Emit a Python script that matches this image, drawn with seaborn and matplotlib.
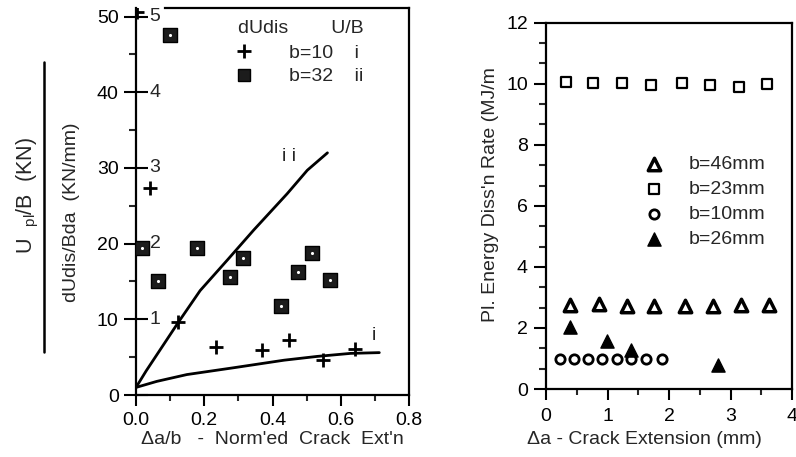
import matplotlib
matplotlib.use("Agg")
import matplotlib.pyplot as plt
import seaborn as sns
import numpy as np
import pandas as pd
from matplotlib.lines import Line2D
from matplotlib.ticker import MultipleLocator, FixedLocator

# ---------------- Left panel data ----------------
b10_x = [0.003, 0.041, 0.124, 0.235, 0.369, 0.449, 0.549, 0.642]
b10_y = [50.6, 27.4, 9.6, 6.4, 6.0, 7.3, 4.6, 6.1]
b32_x = [0.017, 0.100, 0.065, 0.180, 0.274, 0.315, 0.425, 0.476, 0.517, 0.569]
b32_y = [19.4, 47.6, 15.0, 19.4, 15.6, 18.1, 11.7, 16.3, 18.7, 15.2]
curve_ii_x = [0.0, 0.03, 0.124, 0.188, 0.267, 0.345, 0.443, 0.502, 0.561]
curve_ii_y = [1.0, 3.2, 9.6, 13.8, 17.8, 21.8, 26.6, 29.7, 32.0]
curve_i_x = [0.0, 0.061, 0.149, 0.286, 0.434, 0.531, 0.629, 0.713]
curve_i_y = [1.0, 1.8, 2.7, 3.6, 4.6, 5.1, 5.5, 5.6]
left_yticks = [0, 10, 20, 30, 40, 50]
left_yminor = [5, 15, 25, 35, 45]
ub_ticks = [1, 2, 3, 4, 5]
left_xticks = [0.0, 0.2, 0.4, 0.6, 0.8]
left_xminor = [0.1, 0.3, 0.5, 0.7]

# ---------------- Right panel data ----------------
b46_x = [0.39, 0.86, 1.31, 1.76, 2.26, 2.71, 3.17, 3.63]
b46_y = [2.75, 2.78, 2.72, 2.72, 2.72, 2.72, 2.74, 2.75]
b23_x = [0.33, 0.77, 1.24, 1.70, 2.21, 2.66, 3.14, 3.60]
b23_y = [10.07, 10.01, 10.01, 9.96, 10.03, 9.96, 9.90, 9.99]
b10mm_x = [0.23, 0.46, 0.68, 0.91, 1.15, 1.38, 1.63, 1.88]
b10mm_y = [0.98, 0.98, 0.98, 0.98, 0.98, 0.98, 0.98, 0.98]
b26_x = [0.39, 0.99, 1.39, 2.80]
b26_y = [2.04, 1.56, 1.28, 0.79]
right_yticks = [0, 2, 4, 6, 8, 10, 12]
right_xticks = [0, 1, 2, 3, 4]

sns.set_theme(style="white")
plt.rcParams["font.family"] = ["Liberation Sans", "DejaVu Sans"]
plt.rcParams["mathtext.fontset"] = "custom"
plt.rcParams["mathtext.rm"] = "Liberation Sans"

FS = 14
W, H = 796, 457
fig = plt.figure(figsize=(W / 100, H / 100), dpi=100)

ax1 = fig.add_axes([136 / W, 1 - 395 / H, (409 - 136) / W, (395 - 8.3) / H])
ax2 = fig.add_axes([546 / W, 1 - 389 / H, (792 - 546) / W, (389 - 22.7) / H])

for ax in (ax1, ax2):
    for s in ax.spines.values():
        s.set_linewidth(1.6)
        s.set_color("black")

# ---- left ----
sns.lineplot(x=curve_ii_x, y=curve_ii_y, ax=ax1, color="black", lw=2.0,
             estimator=None, sort=False)
sns.lineplot(x=curve_i_x, y=curve_i_y, ax=ax1, color="black", lw=2.0,
             estimator=None, sort=False)
sns.scatterplot(x=b10_x, y=b10_y, ax=ax1, marker="+", s=110, color="black",
                linewidth=2.0, zorder=3)
sns.scatterplot(x=b32_x, y=b32_y, ax=ax1, marker="s", s=115, color="#1c1c1c",
                edgecolor="black", linewidth=1.0, zorder=3)
sns.scatterplot(x=b32_x, y=b32_y, ax=ax1, marker="o", s=5, color="white",
                linewidth=0, zorder=4)

ax1.set_xlim(0, 0.8)
ax1.set_ylim(0, 51.1)
ax1.spines["top"].set_bounds(0.085, 0.8)
ax1.xaxis.set_major_locator(FixedLocator(left_xticks))
ax1.xaxis.set_minor_locator(FixedLocator(left_xminor))
ax1.yaxis.set_major_locator(FixedLocator(left_yticks))
ax1.yaxis.set_minor_locator(FixedLocator(left_yminor))
ax1.set_xticklabels([f"{v:.1f}" for v in left_xticks])
ax1.set_yticklabels([str(v) for v in left_yticks])
ax1.tick_params(axis="y", which="major", direction="inout", length=17, width=1.5,
                pad=4, labelsize=FS, left=True, colors="black")
ax1.tick_params(axis="y", which="minor", direction="out", length=5, width=1.5, left=True)
ax1.tick_params(axis="x", which="major", direction="out", length=8, width=1.5,
                pad=4, labelsize=FS, bottom=True, colors="black")
ax1.tick_params(axis="x", which="minor", direction="out", length=4, width=1.5, bottom=True)

for v in ub_ticks:
    ax1.text(0.04, v * 10, str(v), ha="left", va="center", fontsize=FS)

ax1.text(0.448, 31.5, "i i", ha="center", va="center", fontsize=FS)
ax1.text(0.697, 7.8, "i", ha="center", va="center", fontsize=FS)

h_plus = Line2D([], [], marker="+", ls="none", color="black", ms=10, mew=2)
h_sq = Line2D([], [], marker="s", ls="none", mfc="#1c1c1c", mec="black", ms=9)
leg1 = ax1.legend([h_plus, h_sq], ["b=10    i", "b=32    ii"],
                  title="dUdis        U/B", loc="upper left",
                  bbox_to_anchor=(0.33, 0.99), frameon=False, fontsize=FS,
                  title_fontsize=FS, handletextpad=1.85, labelspacing=0.32,
                  borderaxespad=0.0, handlelength=1.0)
leg1._legend_box.align = "right"
leg1._legend_box.sep = 5

ax1.set_xlabel("")
ax1.set_ylabel("")
fig.text(272 / W, 1 - 440 / H, "\u0394a/b   -  Norm'ed  Crack  Ext'n",
         ha="center", va="center", fontsize=FS)

fig.text(28 / W, 1 - 195 / H, r"U  $_{\mathrm{pl}}$/B  (KN)", rotation=90,
         ha="center", va="center", fontsize=15.5)
fig.add_artist(Line2D([44 / W, 44 / W], [1 - 62 / H, 1 - 352 / H],
                      transform=fig.transFigure, color="black", lw=1.8))
fig.text(72 / W, 1 - 212 / H, "dUdis/Bda  (KN/mm)", rotation=90,
         ha="center", va="center", fontsize=FS)

# ---- right ----
sns.scatterplot(x=b46_x, y=b46_y, ax=ax2, marker="^", s=80, color="white",
                edgecolor="black", linewidth=2.5, label="b=46mm", zorder=3)
sns.scatterplot(x=b23_x, y=b23_y, ax=ax2, marker="s", s=50, color="white",
                edgecolor="black", linewidth=1.6, label="b=23mm", zorder=3)
sns.scatterplot(x=b10mm_x, y=b10mm_y, ax=ax2, marker="o", s=45, color="white",
                edgecolor="black", linewidth=2.0, label="b=10mm", zorder=3)
sns.scatterplot(x=b26_x, y=b26_y, ax=ax2, marker="^", s=90, color="black",
                edgecolor="black", linewidth=1.0, label="b=26mm", zorder=4)

ax2.set_xlim(0, 4)
ax2.set_ylim(0, 12)
ax2.xaxis.set_major_locator(FixedLocator(right_xticks))
ax2.xaxis.set_minor_locator(MultipleLocator(0.5))
ax2.yaxis.set_major_locator(FixedLocator(right_yticks))
ax2.yaxis.set_minor_locator(MultipleLocator(2 / 3))
ax2.tick_params(axis="y", which="major", direction="out", length=9, width=1.5,
                pad=4, labelsize=FS, left=True, colors="black")
ax2.tick_params(axis="y", which="minor", direction="out", length=5, width=1.5, left=True)
ax2.tick_params(axis="x", which="major", direction="out", length=8, width=1.5,
                pad=6, labelsize=FS, bottom=True, colors="black")
ax2.tick_params(axis="x", which="minor", direction="out", length=4, width=1.5, bottom=True)

ax2.legend(loc="upper left", bbox_to_anchor=(0.36, 0.66), frameon=False,
           fontsize=FS, handletextpad=1.2, labelspacing=0.38, borderaxespad=0.0,
           handlelength=1.2)

ax2.set_ylabel("Pl. Energy Diss'n Rate (MJ/m", fontsize=FS)
ax2.yaxis.set_label_coords(-0.19, 0.53)
ax2.set_xlabel("\u0394a - Crack Extension (mm)", fontsize=FS)
ax2.xaxis.set_label_coords(0.40, -0.115)

fig.savefig("out.png", dpi=100)
